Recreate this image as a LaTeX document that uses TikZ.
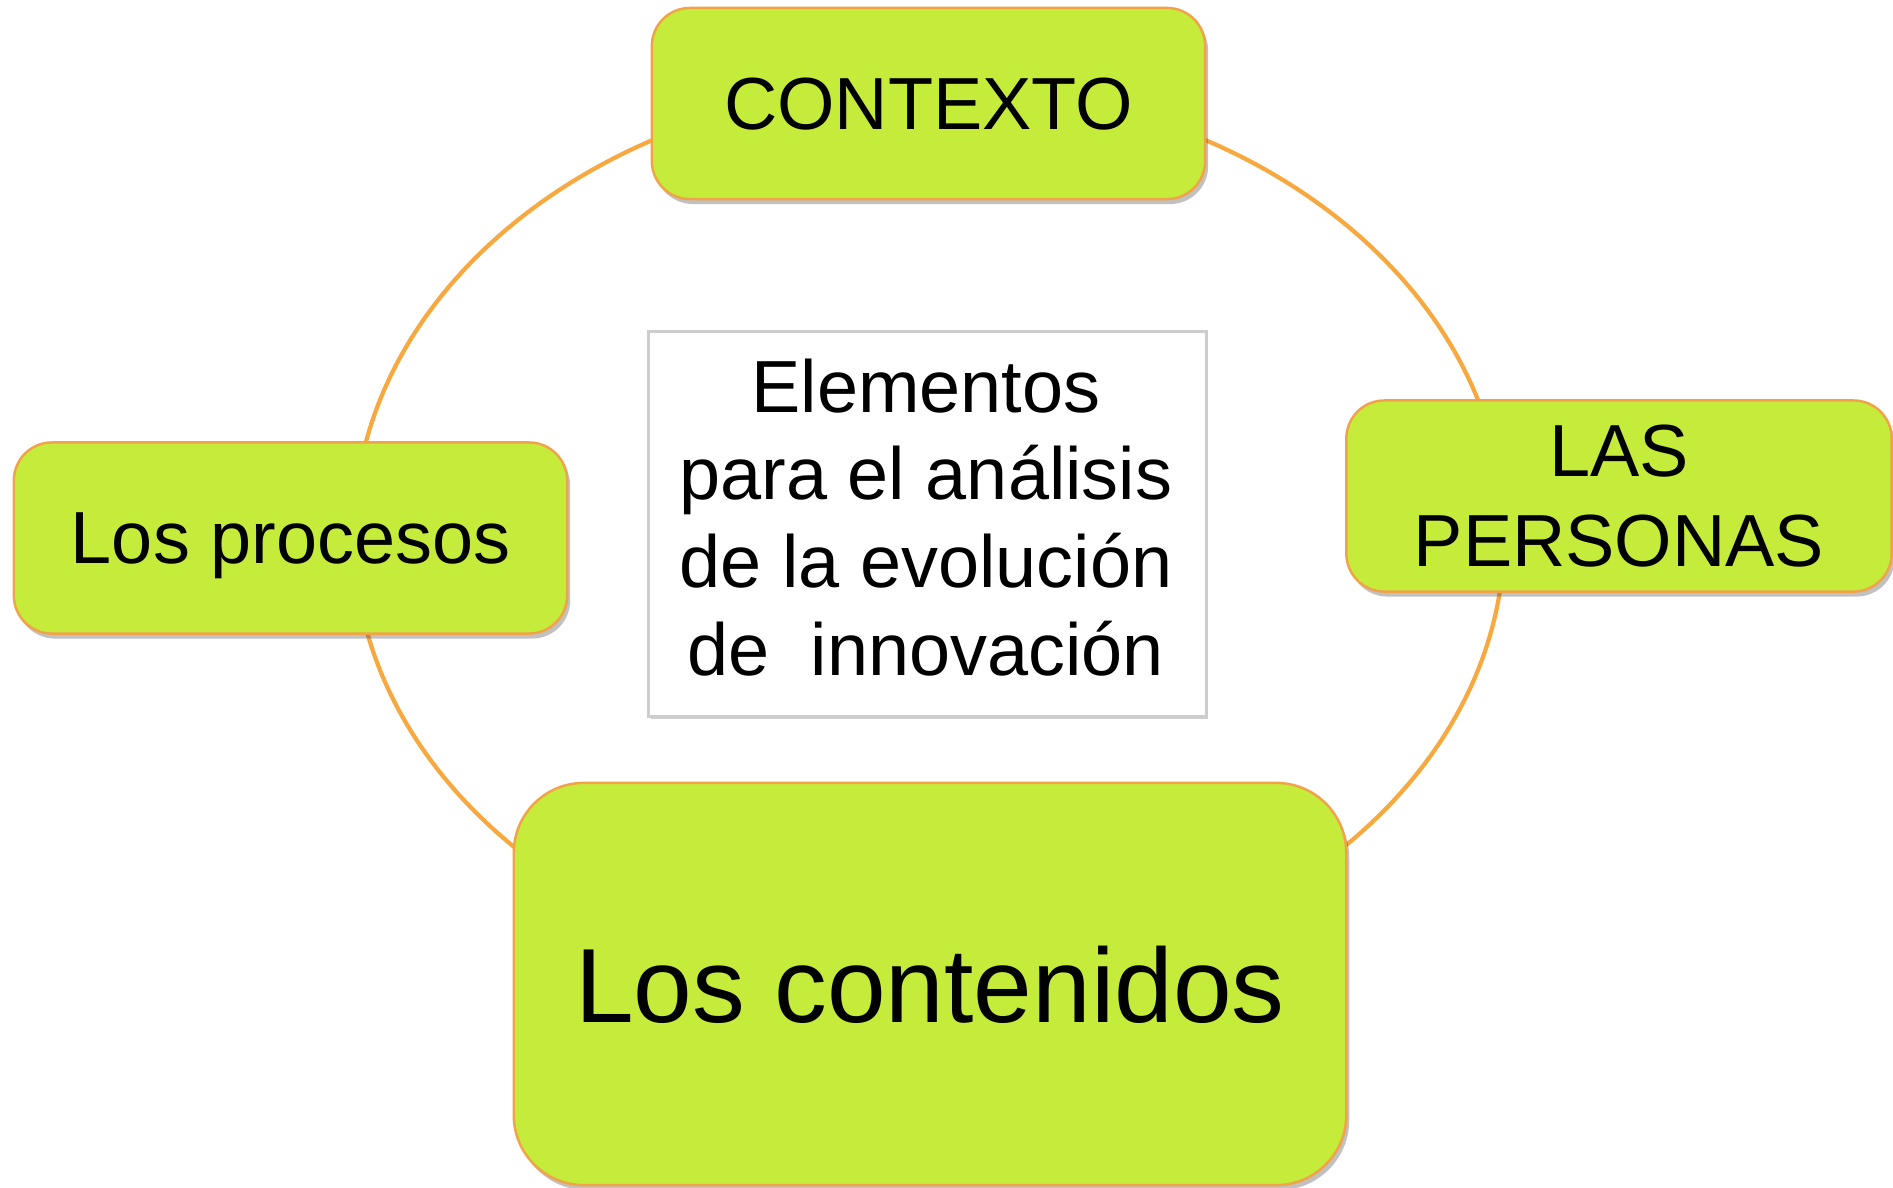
\documentclass[tikz,border=0pt]{standalone}
\usepackage{fontspec}
\setmainfont{Liberation Sans}
\usetikzlibrary{shadows}
\definecolor{boxgreen}{RGB}{197,236,58}
\definecolor{ringorange}{RGB}{247,168,62}
\definecolor{boxborder}{RGB}{242,162,72}
\definecolor{framegray}{RGB}{205,205,205}
\begin{document}
\begin{tikzpicture}[x=0.01cm,y=-0.01cm,
  greenbox/.style={draw=boxborder, line width=0.7pt, fill=boxgreen,
    drop shadow={shadow xshift=0.03cm, shadow yshift=-0.05cm, opacity=0.35, fill=black!70},
    inner sep=0pt, align=center, text depth=0pt},
  smallbox/.style={greenbox, rounded corners=0.38cm, minimum width=5.53cm, minimum height=1.91cm,
    font=\fontsize{21}{25.5}\selectfont},
  bigbox/.style={greenbox, rounded corners=0.7cm, minimum width=8.32cm, minimum height=4.02cm,
    font=\fontsize{30}{36}\selectfont},
  centerbox/.style={draw=framegray, line width=0.8pt, fill=white,
    drop shadow={shadow xshift=0.02cm, shadow yshift=-0.03cm, opacity=0.3, fill=black!60},
    minimum width=5.57cm, minimum height=3.84cm, inner sep=0pt},
  ring/.style={draw=ringorange, line width=1.2pt}
]
\useasboundingbox (0,0) rectangle (1893,1187);
% ring
\coordinate (rc) at (929,535);
\draw[ring] (rc) ellipse [x radius=5.75cm, y radius=4.5cm];
% centre box
\node[centerbox] (cbox) at (927.5,524) {};
\node[align=center, inner sep=0pt, font=\fontsize{21}{25}\selectfont] (ctext) at (926,517.5)
  {Elementos\\para el análisis\\de la evolución\\de~ innovación};
% outer boxes
\node[smallbox] (contexto) at (928.5,103.5) {CONTEXTO};
\node[smallbox, minimum width=5.45cm] (personas) at (1619,496) {LAS\\PERSONAS};
\node[smallbox] (procesos) at (290.5,538) {Los procesos};
\node[bigbox] (contenidos) at (930,984) {Los contenidos};
\end{tikzpicture}
\end{document}
